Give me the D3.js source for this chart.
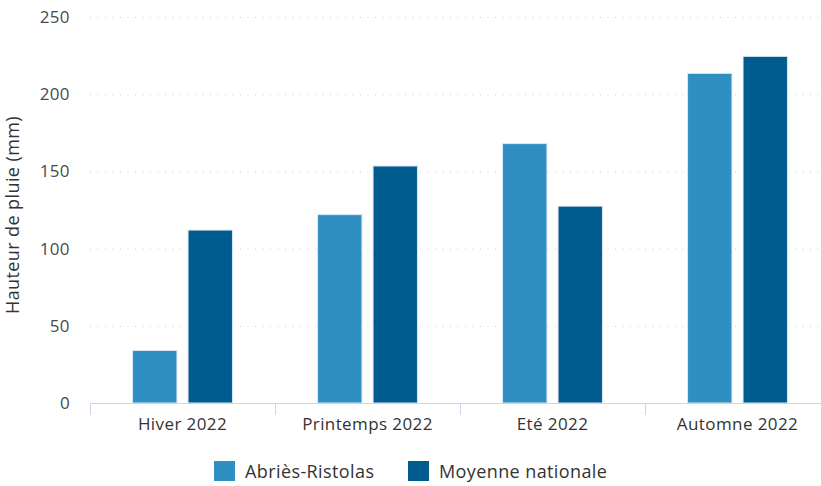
<!DOCTYPE html>
<html>
<head>
<meta charset="utf-8">
<script src="https://cdn.jsdelivr.net/npm/d3@7"></script>
<style>
  body { margin: 0; background: #fff; }
  text { font-family: "Open Sans", sans-serif; letter-spacing: 0.4px; }
</style>
</head>
<body>
<div id="chart"></div>
<script>
// values (mm)
var categories = ["Hiver 2022", "Printemps 2022", "Eté 2022", "Automne 2022"],
    seriesNames = ["Abriès-Ristolas", "Moyenne nationale"],
    abries = [34, 122, 168, 213.5],
    moyenne = [112, 153.5, 127.5, 224.5],
    yTicks = [0, 50, 100, 150, 200, 250],
    colors = ["#2f8fc3", "#005c8f"];

var W = 821, H = 486,
    margin = {top: 17, right: -9, bottom: 83, left: 90},
    width = W - margin.left - margin.right,
    height = H - margin.top - margin.bottom;

var svg = d3.select("#chart").append("svg")
    .attr("width", W)
    .attr("height", H)
    .append("g")
    .attr("transform", "translate(" + margin.left + "," + margin.top + ")");

var x = d3.scaleBand()
    .domain(categories)
    .range([0, width]);

var x1 = d3.scaleBand()
    .domain(seriesNames)
    .range([x.bandwidth() * 0.2, x.bandwidth() * 0.8])
    .paddingInner(0.2)
    .paddingOuter(0.1);

var y = d3.scaleLinear()
    .domain([0, 250])
    .range([height, 0]);

// gridlines
svg.append("g")
    .selectAll("line")
    .data(yTicks.filter(function(d) { return d > 0; }))
    .enter()
    .append("line")
    .attr("x1", 0)
    .attr("x2", width)
    .attr("y1", function(d) { return y(d) + 0.5; })
    .attr("y2", function(d) { return y(d) + 0.5; })
    .attr("stroke", "#c8c8c8")
    .attr("stroke-width", 1)
    .attr("stroke-dasharray", "1,6.5");

// y axis labels
var yAxis = svg.append("g")
    .call(d3.axisLeft(y).tickValues(yTicks).tickSize(0).tickPadding(20));
yAxis.select(".domain").remove();
yAxis.selectAll("text")
    .attr("fill", "#4a4a4a")
    .style("font-size", "17px")
    .style("font-family", "'Open Sans', sans-serif");

// bars
var data = [];
categories.forEach(function(c, i) {
    data.push({cat: c, series: seriesNames[0], value: abries[i]});
    data.push({cat: c, series: seriesNames[1], value: moyenne[i]});
});

svg.selectAll(".bar")
    .data(data)
    .enter()
    .append("rect")
    .attr("class", "bar")
    .attr("x", function(d) { return x(d.cat) + x1(d.series); })
    .attr("y", function(d) { return y(d.value); })
    .attr("width", x1.bandwidth())
    .attr("height", function(d) { return height - y(d.value); })
    .attr("fill", function(d) { return colors[seriesNames.indexOf(d.series)]; })
    .attr("stroke", "#d9e6f2")
    .attr("stroke-width", 1);

// x axis
var xAxis = svg.append("g")
    .attr("transform", "translate(0," + height + ")");
xAxis.append("line")
    .attr("x1", 0).attr("x2", width)
    .attr("y1", 0.5).attr("y2", 0.5)
    .attr("stroke", "#ccd6eb");
xAxis.selectAll(".tick")
    .data(categories)
    .enter()
    .append("line")
    .attr("x1", function(d) { return x(d) + 0.5; })
    .attr("x2", function(d) { return x(d) + 0.5; })
    .attr("y1", 0)
    .attr("y2", 12)
    .attr("stroke", "#ccd6eb");
xAxis.selectAll(".lbl")
    .data(categories)
    .enter()
    .append("text")
    .attr("x", function(d) { return x(d) + x.bandwidth() / 2; })
    .attr("y", 27)
    .attr("text-anchor", "middle")
    .attr("fill", "#333")
    .style("font-size", "17px")
    .text(function(d) { return d; });

// y axis title
svg.append("text")
    .attr("transform", "translate(" + (-71) + "," + (height / 2 + 5) + ") rotate(-90)")
    .attr("text-anchor", "middle")
    .attr("fill", "#333")
    .style("font-size", "18px")
    .text("Hauteur de pluie (mm)");

// legend
var legendPos = [214, 408];
var legend = d3.select("svg").append("g");
seriesNames.forEach(function(s, i) {
    legend.append("rect")
        .attr("x", legendPos[i])
        .attr("y", 461)
        .attr("width", 21)
        .attr("height", 20)
        .attr("fill", colors[i]);
    legend.append("text")
        .attr("x", legendPos[i] + 31)
        .attr("y", 478)
        .attr("fill", "#333")
        .style("font-size", "18px")
        .text(s);
});
</script>
</body>
</html>
